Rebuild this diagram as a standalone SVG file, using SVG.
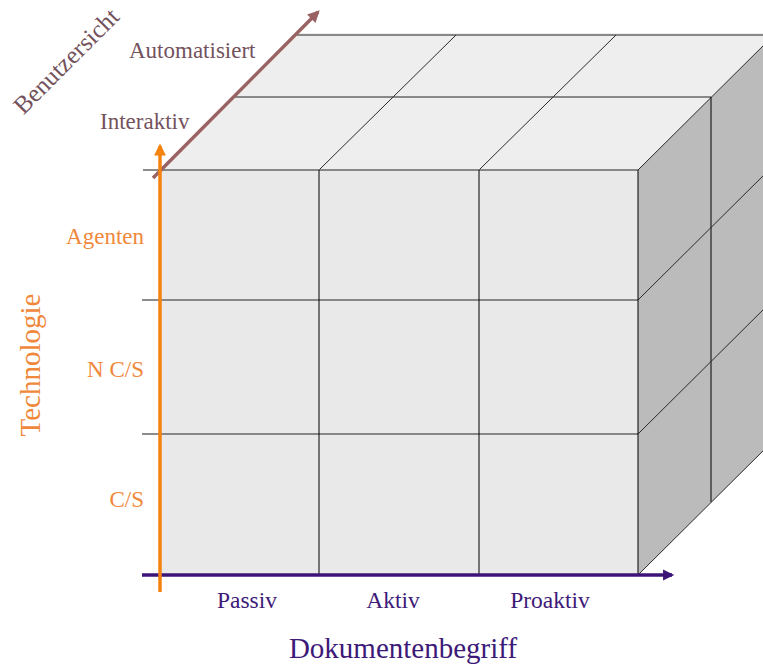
<svg xmlns="http://www.w3.org/2000/svg" width="763" height="665" viewBox="0 0 763 665">
  <style>
    .txt { font-family: "Liberation Serif", "Times New Roman", serif; }
    .user { fill: #74525c; font-size: 23px; }
    .tech { fill: #f0883c; font-size: 23px; }
    .doc { fill: #3d1a78; font-size: 23.5px; }
    .title-user { font-size: 25px; }
    .title-tech { font-size: 29px; }
    .title-doc { font-size: 29px; }
    .grid-h { stroke: #666666; stroke-width: 1.5; fill: none; }
    .grid-v { stroke: #000000; stroke-width: 1; fill: none; }
    .grid-d { stroke: #2a2a2a; stroke-width: 1; fill: none; }
  </style>
  <defs>
    <marker id="head-orange" viewBox="0 0 10 10" refX="8" refY="5" markerWidth="3.8" markerHeight="3.4" orient="auto" markerUnits="strokeWidth">
      <path d="M0,0 L10,5 L0,10 z" fill="#f5820f"/>
    </marker>
    <marker id="head-purple" viewBox="0 0 10 10" refX="8" refY="5" markerWidth="3.8" markerHeight="3.2" orient="auto" markerUnits="strokeWidth">
      <path d="M0,0 L10,5 L0,10 z" fill="#3c1478"/>
    </marker>
    <marker id="head-brown" viewBox="0 0 10 10" refX="8" refY="5" markerWidth="3.8" markerHeight="3.4" orient="auto" markerUnits="strokeWidth">
      <path d="M0,0 L10,5 L0,10 z" fill="#9a6262"/>
    </marker>
  </defs>

  <!-- cube faces -->
  <g id="cube">
    <polygon id="top-face" points="160,170 638,170 776,33 298,33" fill="#eeeeee"/>
    <polygon id="right-face" points="638,170 776,33 776,438 638,575" fill="#bbbbbb"/>
    <rect id="front-face" x="160" y="170" width="478" height="405" fill="#e9e9e9"/>

    <!-- top face grid -->
    <line class="grid-h" x1="297" y1="35" x2="763" y2="35"/>
    <line class="grid-h" x1="233" y1="97" x2="711" y2="97"/>
    <line class="grid-d" x1="319" y1="170" x2="456" y2="35"/>
    <line class="grid-d" x1="479" y1="170" x2="616" y2="35"/>
    <line class="grid-d" x1="638" y1="170" x2="776" y2="33"/>

    <!-- right face grid -->
    <line class="grid-v" x1="711" y1="97" x2="711" y2="502"/>
    <line class="grid-d" x1="638" y1="300" x2="776" y2="163"/>
    <line class="grid-d" x1="638" y1="434" x2="776" y2="297"/>
    <line class="grid-d" x1="638" y1="575" x2="776" y2="438"/>

    <!-- front face grid -->
    <line class="grid-h" x1="143" y1="170" x2="638" y2="170"/>
    <line class="grid-h" x1="142" y1="300" x2="638" y2="300"/>
    <line class="grid-h" x1="142" y1="434" x2="638" y2="434"/>
    <line class="grid-v" x1="319" y1="170" x2="319" y2="575"/>
    <line class="grid-v" x1="479" y1="170" x2="479" y2="575"/>
    <line class="grid-v" x1="638" y1="170" x2="638" y2="575" stroke-width="1.5"/>
  </g>

  <!-- axes -->
  <g id="axes">
    <line id="axis-user" x1="153" y1="178" x2="318" y2="12" stroke="#9a6262" stroke-width="3.5" marker-end="url(#head-brown)"/>
    <line id="axis-doc" x1="142" y1="575" x2="672" y2="575" stroke="#3c1478" stroke-width="3.5" marker-end="url(#head-purple)"/>
    <line id="axis-tech" x1="160" y1="592" x2="160" y2="146" stroke="#f5820f" stroke-width="3.5" marker-end="url(#head-orange)"/>
  </g>

  <!-- user view labels -->
  <g id="labels-user" class="txt">
    <text class="user title-user" x="72" y="67" text-anchor="middle" transform="rotate(-45 72 67)">Benutzersicht</text>
    <text class="user" x="129" y="58">Automatisiert</text>
    <text class="user" x="100" y="129">Interaktiv</text>
  </g>

  <!-- technology labels -->
  <g id="labels-tech" class="txt">
    <text class="tech title-tech" x="40" y="365" text-anchor="middle" transform="rotate(-90 40 365)">Technologie</text>
    <text class="tech" x="144" y="244" text-anchor="end">Agenten</text>
    <text class="tech" x="144" y="377" text-anchor="end">N C/S</text>
    <text class="tech" x="144" y="507" text-anchor="end">C/S</text>
  </g>

  <!-- document concept labels -->
  <g id="labels-doc" class="txt">
    <text class="doc" x="247" y="608" text-anchor="middle">Passiv</text>
    <text class="doc" x="393" y="608" text-anchor="middle">Aktiv</text>
    <text class="doc" x="550" y="608" text-anchor="middle">Proaktiv</text>
    <text class="doc title-doc" x="403" y="658" text-anchor="middle">Dokumentenbegriff</text>
  </g>
</svg>
